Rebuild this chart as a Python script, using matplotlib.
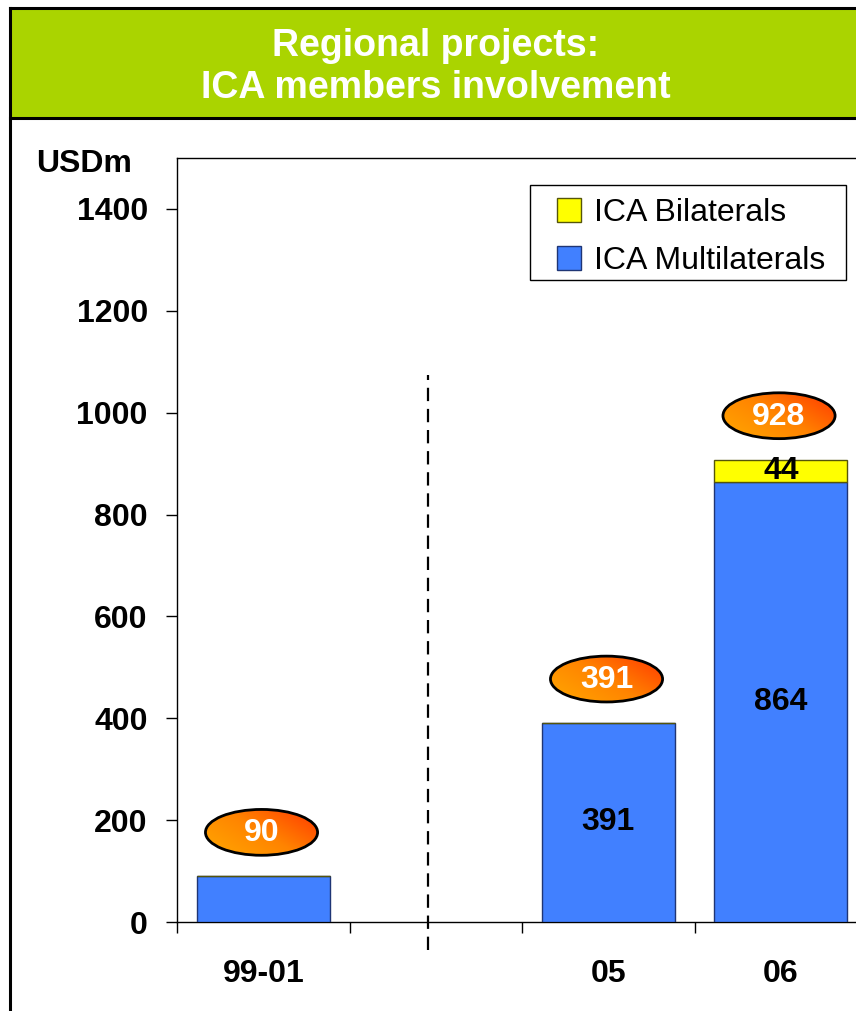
import numpy as np
import matplotlib
matplotlib.use("Agg")
import matplotlib.pyplot as plt
from matplotlib.patches import Ellipse, Rectangle
from matplotlib.lines import Line2D
from matplotlib.colors import LinearSegmentedColormap
from matplotlib.legend_handler import HandlerPatch

plt.rcParams['font.family'] = ['Liberation Sans', 'DejaVu Sans']

# ---- data ----
categories = ["99-01", "", "05", "06"]
multilaterals = [90, 0, 391, 864]
bilaterals = [0, 0, 0, 44]
bubble_labels = ["90", "", "391", "928"]
inner_multi_labels = ["", "", "391", "864"]
inner_bi_labels = ["", "", "", "44"]
yticks = [0, 200, 400, 600, 800, 1000, 1200, 1400]
title_lines = ["Regional projects:", "ICA members involvement"]
legend_labels = ["ICA Bilaterals", "ICA Multilaterals"]
unit_label = "USDm"

W, H = 856, 1011
fig = plt.figure(figsize=(W / 100, H / 100), dpi=100)

# ---- frame & header ----
hdr_top = 1 - 8 / H
hdr_bot = 1 - 118 / H
xl = 10 / W
fig.patches.append(Rectangle((xl, hdr_bot), 1.2, hdr_top - hdr_bot, transform=fig.transFigure,
                             facecolor='#AAD400', edgecolor='none', zorder=0))
fig.lines.append(Line2D([xl, 1.1], [hdr_top, hdr_top], transform=fig.transFigure, color='black', lw=2.2))
fig.lines.append(Line2D([xl, 1.1], [hdr_bot, hdr_bot], transform=fig.transFigure, color='black', lw=2.2))
fig.lines.append(Line2D([xl, xl], [-0.1, hdr_top], transform=fig.transFigure, color='black', lw=2.2))

fig.text(436 / W, 1 - 56 / H, title_lines[0], ha='center', va='baseline', color='white',
         fontsize=27, fontweight='bold')
fig.text(436 / W, 1 - 98 / H, title_lines[1], ha='center', va='baseline', color='white',
         fontsize=27, fontweight='bold')

# ---- axes ----
left, right, bottom, top = 177 / W, 867 / W, 1 - 922 / H, 1 - 158 / H
ax = fig.add_axes([left, bottom, right - left, top - bottom])
AXW, AXH = 690.0, 764.0

x = np.arange(len(categories))
bw = 0.77
blue = '#4180FF'
yellow = '#FFFF00'
blue_edge = '#1F3575'
yellow_edge = '#55550A'
ax.bar(x[[0, 2, 3]], np.array(multilaterals)[[0, 2, 3]], width=bw, color=blue,
       edgecolor=blue_edge, linewidth=1.0, zorder=3)
ax.bar(x[[0, 2, 3]], np.array(bilaterals)[[0, 2, 3]], width=bw,
       bottom=np.array(multilaterals)[[0, 2, 3]], color=yellow,
       edgecolor=yellow_edge, linewidth=1.0, zorder=3)

totals = np.array(multilaterals) + np.array(bilaterals)

for i in range(len(categories)):
    if inner_multi_labels[i]:
        ax.text(x[i], multilaterals[i] / 2, inner_multi_labels[i], ha='center', va='center',
                fontsize=23, fontweight='bold', color='black', zorder=6)
    if inner_bi_labels[i]:
        ax.text(x[i], multilaterals[i] + bilaterals[i] / 2, inner_bi_labels[i], ha='center',
                va='center', fontsize=23, fontweight='bold', color='black', zorder=6)

# bubbles
cmap = LinearSegmentedColormap.from_list('bub', ['#FFA800', '#FF8400', '#FF3800'])
gx, gy = np.meshgrid(np.linspace(0, 1, 120), np.linspace(0, 1, 120))
grad = 0.6 * gx + 0.4 * gy
ew, eh = 0.65, 90
for i in range(len(categories)):
    if not bubble_labels[i]:
        continue
    xc, yc = x[i] - 0.01, totals[i] + 86
    e = Ellipse((xc, yc), ew, eh, facecolor='none', edgecolor='black', lw=2.0, zorder=6)
    ax.add_patch(e)
    im = ax.imshow(grad, cmap=cmap, extent=[xc - ew / 2, xc + ew / 2, yc - eh / 2, yc + eh / 2],
                   origin='lower', aspect='auto', zorder=5)
    im.set_clip_path(e)
    ax.text(xc, yc - 2, bubble_labels[i], ha='center', va='center', fontsize=23,
            fontweight='bold', color='white', zorder=7)

# dashed separator
ax.plot([0.955, 0.955], [-55, 1074], color='black', lw=1.6, linestyle=(0, (6, 3.5)),
        clip_on=False, zorder=4)

ax.set_xlim(-0.5, 3.5)
ax.set_ylim(0, 1500)
ax.set_yticks(yticks)
ax.set_yticklabels([str(v) for v in yticks], fontsize=23, fontweight='bold')
ax.tick_params(axis='y', length=8, width=1, pad=13, direction='out')
ax.set_xticks(np.arange(-0.5, 3.6, 1.0))
ax.set_xticklabels([])
ax.set_xticks(x, minor=True)
ax.set_xticklabels(categories, minor=True, fontsize=23, fontweight='bold')
ax.tick_params(axis='x', which='major', length=8, width=1, direction='out')
ax.tick_params(axis='x', which='minor', length=0, pad=27)
for s in ax.spines.values():
    s.set_linewidth(1.0)

fig.text(84 / W, 1 - 172 / H, unit_label, ha='center', va='baseline', fontsize=23, fontweight='bold')


# legend: frame drawn separately, square handles at the right end of the handle box
def square_patch(legend, orig_handle, xdescent, ydescent, width, height, fontsize):
    s = 17.0
    return Rectangle((width - xdescent - s, (height - s) / 2 - ydescent), s, s)


ax.add_patch(Rectangle(((530 - 177) / AXW, (922 - 280) / AXH), 316 / AXW, 95 / AXH,
                       transform=ax.transAxes, facecolor='white', edgecolor='black',
                       lw=1.0, zorder=8))
proxies = [Rectangle((0, 0), 1, 1, facecolor=yellow, edgecolor=yellow_edge, lw=1.0),
           Rectangle((0, 0), 1, 1, facecolor=blue, edgecolor=blue_edge, lw=1.0)]
leg = ax.legend(proxies, legend_labels, loc='upper left',
                bbox_to_anchor=((539.4 - 177) / AXW, (922 - 198) / AXH), borderaxespad=0,
                fontsize=23, frameon=False,
                handlelength=1.3, handleheight=0.7, handletextpad=0.4, labelspacing=0.575,
                borderpad=0.0,
                handler_map={Rectangle: HandlerPatch(patch_func=square_patch)})
leg.set_zorder(9)

fig.savefig('out.png', dpi=100)
